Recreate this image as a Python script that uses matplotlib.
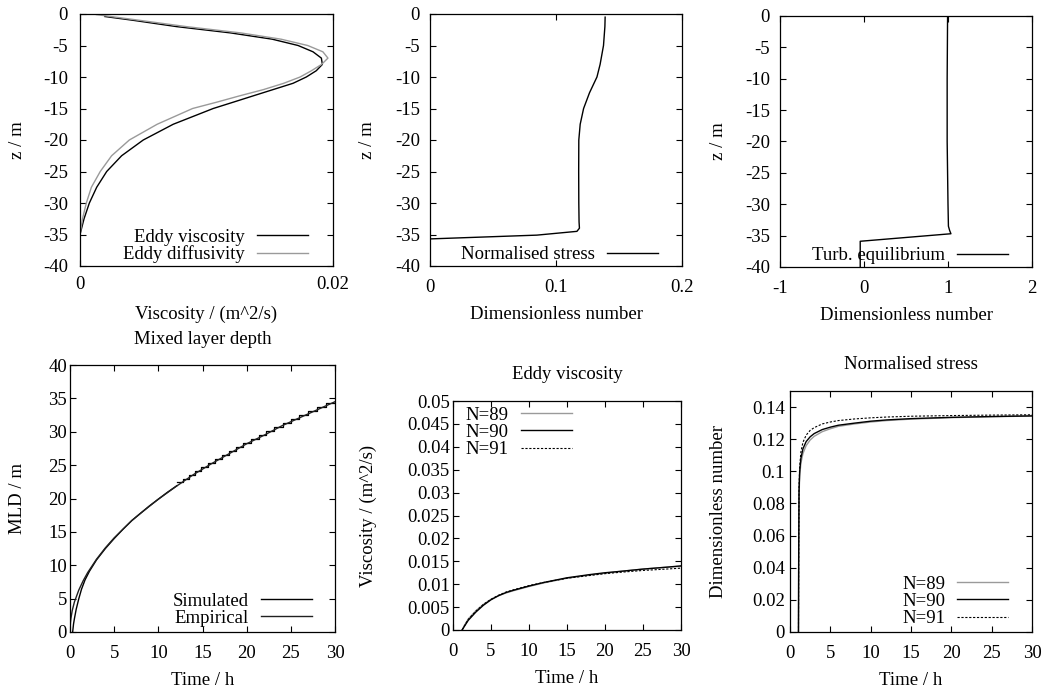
import numpy as np
import matplotlib
matplotlib.use("Agg")
import matplotlib.pyplot as plt
from matplotlib.ticker import MultipleLocator, FormatStrFormatter

plt.rcParams["font.family"] = "Liberation Serif"
plt.rcParams["font.size"] = 13.5
plt.rcParams["axes.unicode_minus"] = False
plt.rcParams["xtick.direction"] = "in"
plt.rcParams["ytick.direction"] = "in"
plt.rcParams["xtick.top"] = True
plt.rcParams["ytick.right"] = True
plt.rcParams["xtick.major.size"] = 4
plt.rcParams["ytick.major.size"] = 4
plt.rcParams["axes.linewidth"] = 0.9

# --- profiles (top row) ---
z_visc = [-0.4, -1, -2, -3, -4, -5, -6, -7, -8, -9, -10, -11, -12, -13, -14,
          -15, -17.5, -20, -22.5, -25, -27.5, -30, -32.5, -35]
eddy_visc = [0.00197, 0.0042, 0.00763, 0.01190, 0.01520, 0.01724, 0.01842, 0.01908,
             0.01916, 0.01868, 0.01789, 0.01684, 0.01526, 0.01368, 0.01211,
             0.01053, 0.00737, 0.0050, 0.00329, 0.00211, 0.00132, 0.00074, 0.00032, 0.0]
z_diff = [-0.1, -1, -2, -3, -4, -5, -6, -7, -8, -9, -10, -11, -12, -13, -14,
          -15, -17.5, -20, -22.5, -25, -27.5, -30, -32.5, -35]
eddy_diff = [0.0013, 0.0047, 0.0084, 0.0127, 0.0159, 0.0180, 0.0192, 0.0196,
             0.0191, 0.0183, 0.0174, 0.0161, 0.0145, 0.0126, 0.0108,
             0.0089, 0.0061, 0.0039, 0.0025, 0.0016, 0.0009, 0.0005, 0.0002, 0.0]

z_stress = [-0.5, -2, -5, -8, -10, -12.5, -15, -17.5, -20, -25, -30, -33, -34,
            -34.5, -35.1, -35.4, -35.7]
norm_stress = [0.139, 0.1388, 0.1377, 0.135, 0.1325, 0.1266, 0.1219, 0.1192, 0.1181,
               0.1180, 0.1181, 0.1183, 0.1186, 0.1166, 0.0848, 0.0424, 0.0]

z_equil = [0, -10, -20, -30, -33.5, -34.2, -34.7, -35.9, -40]
turb_equil = [0.995, 0.99, 0.99, 1.0, 1.005, 1.02, 1.035, -0.045, -0.045]

# --- mixed layer depth ---
emp_t = [0, 0.05, 0.1, 0.25, 0.5, 1, 1.5, 2, 3, 4, 5, 6, 7, 8, 10, 12, 14, 16,
         18, 20, 22, 24, 26, 28, 30]
emp_mld = [0, 1.4, 2.0, 3.2, 4.5, 6.3, 7.7, 8.9, 10.9, 12.6, 14.1, 15.4, 16.7, 17.8,
           19.9, 21.8, 23.6, 25.2, 26.7, 28.2, 29.5, 30.9, 32.1, 33.3, 34.5]
sim_t = [0.3, 0.4, 0.5, 0.7, 1.0, 1.3, 1.7, 2.2, 3, 4, 5, 6, 7, 8, 9, 10, 11, 12.08]
sim_mld = [0, 1.2, 2.0, 3.4, 5.0, 6.4, 7.8, 9.1, 10.8, 12.5, 14.0, 15.4, 16.7, 17.8,
           18.9, 19.9, 20.9, 21.9]
step_t = [12.08, 12.76, 13.44, 14.15, 14.88, 15.62, 16.38, 17.16, 17.96, 18.78,
          19.61, 20.46, 21.34, 22.22, 23.13, 24.06, 25.0, 25.96, 26.94, 27.94,
          28.95, 30.0]
step_mld = [22.4, 22.9, 23.5, 24.1, 24.7, 25.3, 25.9, 26.5, 27.1, 27.7, 28.3, 28.9,
            29.5, 30.1, 30.7, 31.3, 31.9, 32.5, 33.1, 33.7, 34.3, 34.3]

# --- eddy viscosity time series ---
visc_t = [1.2, 1.5, 2, 3, 4, 5, 6, 7, 8, 10, 12, 15, 18, 20, 22, 25, 28, 30]
visc_n89 = [0, 0.0010, 0.0024, 0.0042, 0.0056, 0.0067, 0.0075, 0.0081, 0.0086, 0.0095,
            0.0103, 0.0113, 0.0120, 0.0124, 0.0128, 0.0133, 0.0137, 0.0139]
visc_n90 = [0, 0.0008, 0.0021, 0.0039, 0.0054, 0.0066, 0.0075, 0.0082, 0.0087, 0.0096,
            0.0104, 0.0114, 0.0121, 0.0125, 0.0128, 0.0133, 0.0137, 0.0140]
visc_n91 = [0, 0.0009, 0.0023, 0.0041, 0.0056, 0.0067, 0.0076, 0.0083, 0.0088, 0.0097,
            0.0104, 0.0113, 0.0119, 0.0123, 0.0126, 0.0130, 0.0133, 0.0135]

# --- normalised stress time series ---
str_t = [1.05, 1.08, 1.12, 1.2, 1.35, 1.6, 2.0, 2.5, 3, 4, 5, 6, 8, 10, 12, 15, 20, 25, 30]
str_n89 = [0, 0.05, 0.085, 0.097, 0.105, 0.111, 0.116, 0.1195, 0.1218, 0.1247, 0.1265,
           0.128, 0.1295, 0.1307, 0.1316, 0.1325, 0.1334, 0.134, 0.1344]
str_n90 = [0, 0.05, 0.088, 0.100, 0.108, 0.114, 0.1185, 0.1215, 0.1235, 0.126, 0.1275,
           0.1287, 0.130, 0.1312, 0.132, 0.1328, 0.1336, 0.1341, 0.1345]
str_n91 = [0, 0.05, 0.09, 0.103, 0.112, 0.118, 0.1225, 0.1255, 0.1272, 0.1295, 0.1307,
           0.1316, 0.1326, 0.1333, 0.1338, 0.1343, 0.1347, 0.135, 0.1352]

GREY = "#9a9a9a"
LW = 1.0

fig = plt.figure(figsize=(10.55, 6.93), dpi=100)
W, H = 1055, 693


def add_ax(left, right, top, bottom, xpad, ypad):
    ax = fig.add_axes([left / W, 1 - bottom / H, (right - left) / W, (bottom - top) / H])
    ax.tick_params(axis="x", pad=xpad)
    ax.tick_params(axis="y", pad=ypad)
    return ax


def key(ax, loc, anchor):
    ax.legend(loc=loc, bbox_to_anchor=anchor, frameon=False, markerfirst=False,
              handlelength=2.7, handletextpad=0.65, labelspacing=0.0,
              borderpad=0, borderaxespad=0, fontsize=13.5)


def fmt():
    return FormatStrFormatter("%g")


# top left
ax = add_ax(80, 333, 14, 266, 7.5, 8.6)
ax.plot(eddy_visc, z_visc, color="black", lw=LW, label="Eddy viscosity")
ax.plot(eddy_diff, z_diff, color=GREY, lw=LW, label="Eddy diffusivity")
ax.set_xlim(0, 0.02)
ax.set_ylim(-40, 0)
ax.xaxis.set_major_locator(MultipleLocator(0.02))
ax.yaxis.set_major_locator(MultipleLocator(5))
ax.xaxis.set_major_formatter(fmt())
ax.set_xlabel("Viscosity / (m^2/s)", labelpad=9)
ax.set_ylabel("z / m", labelpad=12)
key(ax, "lower right", (0.90, 0.01))

# top middle
ax = add_ax(430, 682, 14, 266, 9.3, 7.2)
ax.plot(norm_stress, z_stress, color="black", lw=LW, label="Normalised stress")
ax.set_xlim(0, 0.2)
ax.set_ylim(-40, 0)
ax.xaxis.set_major_locator(MultipleLocator(0.1))
ax.yaxis.set_major_locator(MultipleLocator(5))
ax.xaxis.set_major_formatter(fmt())
ax.set_xlabel("Dimensionless number", labelpad=7)
ax.set_ylabel("z / m", labelpad=14)
key(ax, "lower right", (0.905, 0.01))

# top right
ax = add_ax(780, 1032, 16, 267, 9.3, 7.2)
ax.plot(turb_equil, z_equil, color="black", lw=LW, label="Turb. equilibrium")
ax.set_xlim(-1, 2)
ax.set_ylim(-40, 0)
ax.xaxis.set_major_locator(MultipleLocator(1))
ax.yaxis.set_major_locator(MultipleLocator(5))
ax.xaxis.set_major_formatter(fmt())
ax.set_xlabel("Dimensionless number", labelpad=7)
ax.set_ylabel("z / m", labelpad=13)
key(ax, "lower right", (0.905, 0.01))

# bottom left
ax = add_ax(70, 335, 365, 632, 9.3, 2.2)
ax.plot(sim_t, sim_mld, color="black", lw=LW, label="Simulated")
ax.step(step_t, step_mld, where="post", color="black", lw=0.9)
ax.plot(emp_t, emp_mld, color="#202020", lw=LW, label="Empirical")
ax.set_xlim(0, 30)
ax.set_ylim(0, 40)
ax.xaxis.set_major_locator(MultipleLocator(5))
ax.yaxis.set_major_locator(MultipleLocator(5))
ax.set_xlabel("Time / h", labelpad=7)
ax.set_ylabel("MLD / m", labelpad=16)
ax.set_title("Mixed layer depth", pad=15, fontsize=13.5)
key(ax, "lower right", (0.913, 0.02))

# bottom middle
ax = add_ax(453, 681, 401, 630, 9.3, 2.2)
ax.plot(visc_t, visc_n89, color=GREY, lw=LW, label="N=89")
ax.plot(visc_t, visc_n90, color="black", lw=LW, label="N=90")
ax.plot(visc_t, visc_n91, color="black", lw=0.8, dashes=(2, 1.5), label="N=91")
ax.set_xlim(0, 30)
ax.set_ylim(0, 0.05)
ax.xaxis.set_major_locator(MultipleLocator(5))
ax.yaxis.set_major_locator(MultipleLocator(0.005))
ax.yaxis.set_major_formatter(fmt())
ax.set_xlabel("Time / h", labelpad=7)
ax.set_ylabel("Viscosity / (m^2/s)", labelpad=22)
ax.set_title("Eddy viscosity", pad=16, fontsize=13.5)
key(ax, "upper right", (0.52, 0.975))

# bottom right
ax = add_ax(790, 1032, 391, 632, 9.3, 3.6)
ax.plot(str_t, str_n89, color=GREY, lw=LW, label="N=89")
ax.plot(str_t, str_n90, color="black", lw=LW, label="N=90")
ax.plot(str_t, str_n91, color="black", lw=0.8, dashes=(2, 1.5), label="N=91")
ax.set_xlim(0, 30)
ax.set_ylim(0, 0.15)
ax.xaxis.set_major_locator(MultipleLocator(5))
ax.yaxis.set_major_locator(MultipleLocator(0.02))
ax.yaxis.set_major_formatter(fmt())
ax.set_xlabel("Time / h", labelpad=7)
ax.set_ylabel("Dimensionless number", labelpad=18)
ax.set_title("Normalised stress", pad=16, fontsize=13.5)
key(ax, "lower right", (0.90, 0.02))

fig.savefig("out.png", dpi=100)
